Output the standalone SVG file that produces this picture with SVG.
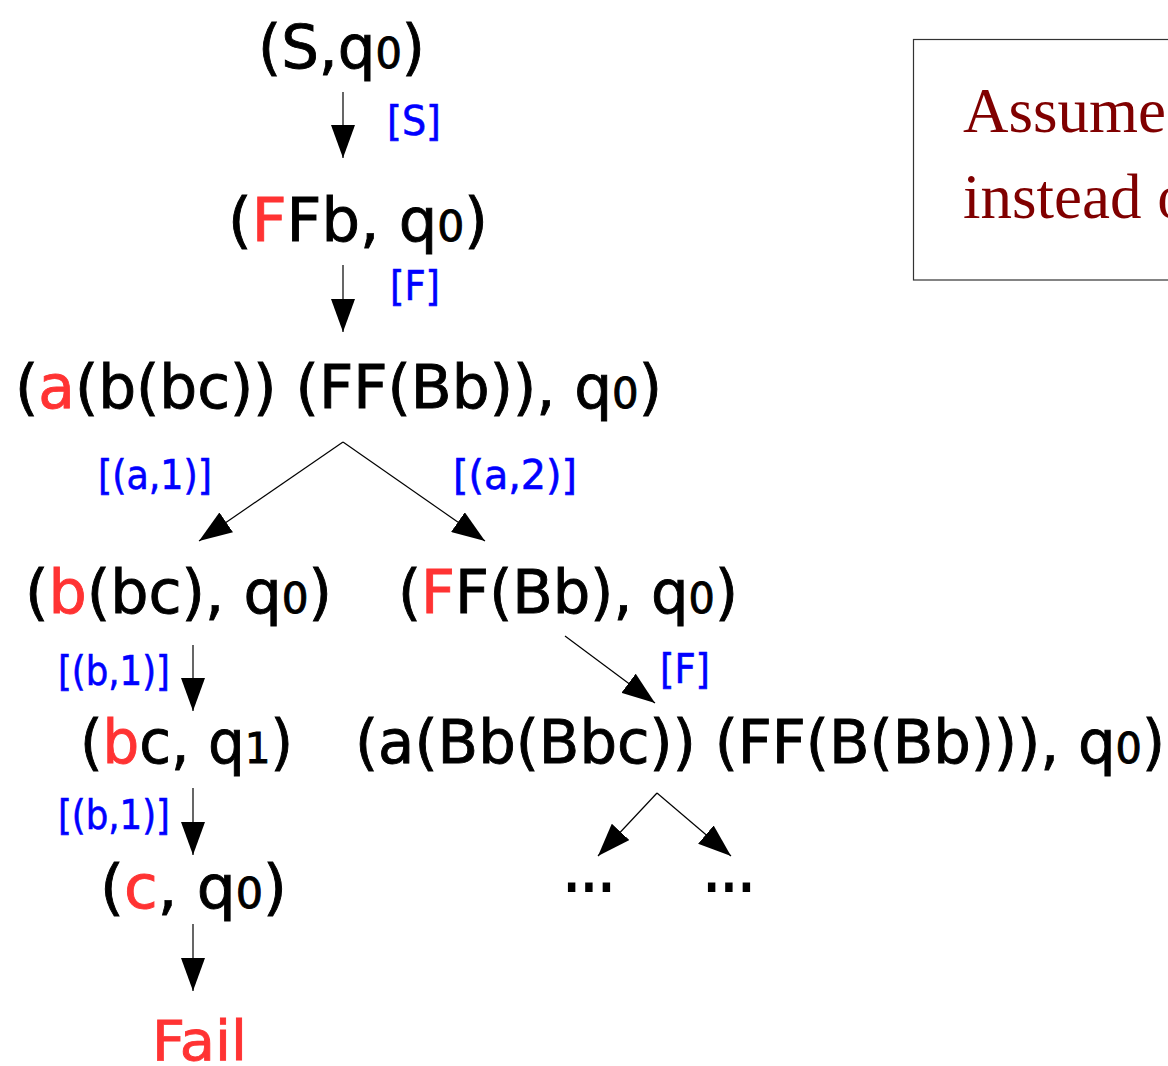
<svg xmlns="http://www.w3.org/2000/svg" width="1168" height="1066" viewBox="0 0 1168 1066">
<style>
.t{font-family:"DejaVu Sans",sans-serif;font-size:60px;fill:#000;stroke:#000;stroke-width:0.9}
.r{fill:#ff3333;stroke:#ff3333}
.s{font-size:42px}
.lb{font-family:"DejaVu Sans",sans-serif;font-size:40px;fill:#0000ff;stroke:#0000ff;stroke-width:0.6}
.e{stroke:#000;stroke-width:1.2;fill:none;marker-end:url(#ah)}
.note{font-family:"Liberation Serif","Times New Roman",serif;font-size:63px;fill:#800000}
</style>
<defs>
<marker id="ah" markerUnits="userSpaceOnUse" markerWidth="34" markerHeight="24" refX="33" refY="12" orient="auto">
<path d="M0,0 L33,12 L0,24 z" fill="#000"/>
</marker>
</defs>
<rect width="1168" height="1066" fill="#fff"/>
<g id="note">
<rect x="913.5" y="39.5" width="300" height="240.5" fill="none" stroke="#333" stroke-width="1.2"/>
<text class="note" x="963" y="132">Assume</text>
<text class="note" x="963" y="218">instead o</text>
</g>
<g id="n1"><text class="t" x="258" y="68" textLength="167" lengthAdjust="spacingAndGlyphs">(S,q<tspan class="s">0</tspan>)</text></g>
<g id="n2"><text class="t" x="228" y="241" textLength="260" lengthAdjust="spacingAndGlyphs">(<tspan class="r">F</tspan>Fb, q<tspan class="s">0</tspan>)</text></g>
<g id="n3"><text class="t" x="15" y="408" textLength="647" lengthAdjust="spacingAndGlyphs">(<tspan class="r">a</tspan>(b(bc)) (FF(Bb)), q<tspan class="s">0</tspan>)</text></g>
<g id="n4"><text class="t" x="25" y="613" textLength="307" lengthAdjust="spacingAndGlyphs">(<tspan class="r">b</tspan>(bc), q<tspan class="s">0</tspan>)</text></g>
<g id="n5"><text class="t" x="398" y="613" textLength="340" lengthAdjust="spacingAndGlyphs">(<tspan class="r">F</tspan>F(Bb), q<tspan class="s">0</tspan>)</text></g>
<g id="n6"><text class="t" x="80" y="763" textLength="213" lengthAdjust="spacingAndGlyphs">(<tspan class="r">b</tspan>c, q<tspan class="s">1</tspan>)</text></g>
<g id="n7"><text class="t" x="355" y="763" textLength="810" lengthAdjust="spacingAndGlyphs">(a(Bb(Bbc)) (FF(B(Bb))), q<tspan class="s">0</tspan>)</text></g>
<g id="n8"><text class="t" x="100" y="908" textLength="187" lengthAdjust="spacingAndGlyphs">(<tspan class="r">c</tspan>, q<tspan class="s">0</tspan>)</text></g>
<g id="n9"><text class="t r" x="152" y="1060" style="font-size:55px" textLength="95" lengthAdjust="spacingAndGlyphs">Fail</text></g>
<g id="n10"><text class="t" x="563" y="891" textLength="52" lengthAdjust="spacingAndGlyphs" style="stroke-width:2">...</text></g>
<g id="n11"><text class="t" x="703" y="891" textLength="52" lengthAdjust="spacingAndGlyphs" style="stroke-width:2">...</text></g>
<g id="connectors">
<line class="e" x1="343" y1="92" x2="343" y2="158"/>
<line class="e" x1="343" y1="265" x2="343" y2="332"/>
<line class="e" x1="343" y1="442" x2="199" y2="541"/>
<line class="e" x1="343" y1="442" x2="485" y2="541"/>
<line class="e" x1="193" y1="645" x2="193" y2="711"/>
<line class="e" x1="193" y1="788" x2="193" y2="855"/>
<line class="e" x1="193" y1="924" x2="193" y2="991"/>
<line class="e" x1="565" y1="636" x2="655" y2="703"/>
<line class="e" x1="657" y1="793" x2="598" y2="856"/>
<line class="e" x1="657" y1="793" x2="731" y2="856"/>
</g>
<g id="labels">
<text class="lb" x="387" y="135" textLength="54" lengthAdjust="spacingAndGlyphs">[S]</text>
<text class="lb" x="390" y="300" textLength="50" lengthAdjust="spacingAndGlyphs">[F]</text>
<text class="lb" x="98" y="489" textLength="114" lengthAdjust="spacingAndGlyphs">[(a,1)]</text>
<text class="lb" x="453" y="489" textLength="124" lengthAdjust="spacingAndGlyphs">[(a,2)]</text>
<text class="lb" x="58" y="685" textLength="112" lengthAdjust="spacingAndGlyphs">[(b,1)]</text>
<text class="lb" x="58" y="829" textLength="112" lengthAdjust="spacingAndGlyphs">[(b,1)]</text>
<text class="lb" x="660" y="683" textLength="50" lengthAdjust="spacingAndGlyphs">[F]</text>
</g>
</svg>
